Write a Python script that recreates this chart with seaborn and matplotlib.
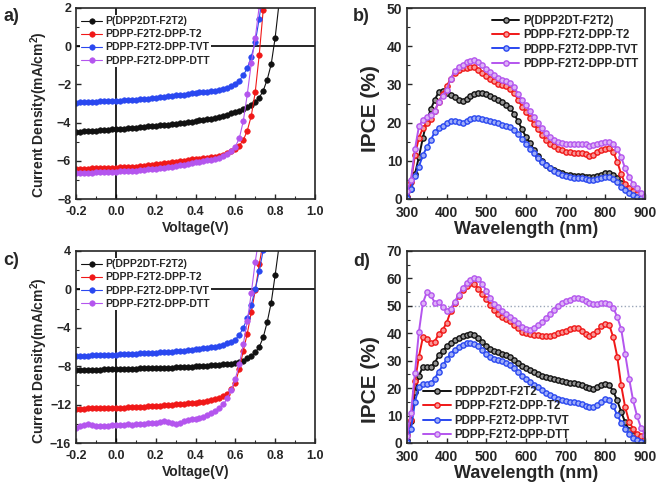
import numpy as np
import pandas as pd
import matplotlib
matplotlib.use('Agg')
import matplotlib.pyplot as plt
from matplotlib.ticker import MultipleLocator
from matplotlib.colors import to_rgb
import seaborn as sns

# J-V data (V step 0.02 V), current density in mA/cm2
voltage = [-0.20, -0.18, -0.16, -0.14, -0.12, -0.10, -0.08, -0.06, -0.04, -0.02,
           0.00, 0.02, 0.04, 0.06, 0.08, 0.10, 0.12, 0.14, 0.16, 0.18,
           0.20, 0.22, 0.24, 0.26, 0.28, 0.30, 0.32, 0.34, 0.36, 0.38,
           0.40, 0.42, 0.44, 0.46, 0.48, 0.50, 0.52, 0.54, 0.56, 0.58,
           0.60, 0.62, 0.64, 0.66, 0.68, 0.70, 0.72, 0.74, 0.76, 0.78,
           0.80, 0.82]

names_top = ['P(DPP2DT-F2T2)', 'PDPP-F2T2-DPP-T2', 'PDPP-F2T2-DPP-TVT', 'PDPP-F2T2-DPP-DTT']
names_d = ['PDPP2DT-F2T2', 'PDPP-F2T2-DPP-T2', 'PDPP-F2T2-DPP-TVT', 'PDPP-F2T2-DPP-DTT']
colors = ['#111111', '#f01818', '#2a48f0', '#b455ee']

# panel a
ja_black = [-4.48, -4.47, -4.46, -4.45, -4.43, -4.42, -4.40, -4.39, -4.37, -4.36,
            -4.34, -4.33, -4.31, -4.30, -4.28, -4.26, -4.24, -4.22, -4.20, -4.18,
            -4.16, -4.14, -4.12, -4.10, -4.07, -4.05, -4.03, -4.00, -3.97, -3.95,
            -3.92, -3.89, -3.86, -3.83, -3.80, -3.77, -3.72, -3.66, -3.59, -3.52,
            -3.45, -3.38, -3.30, -3.20, -3.08, -2.92, -2.70, -2.33, -1.75, -0.95,
            0.45, 2.3]
ja_red = [-6.43, -6.42, -6.42, -6.41, -6.40, -6.40, -6.39, -6.38, -6.37, -6.37,
          -6.36, -6.35, -6.34, -6.33, -6.31, -6.30, -6.28, -6.26, -6.24, -6.21,
          -6.19, -6.16, -6.14, -6.11, -6.08, -6.05, -6.02, -5.99, -5.96, -5.93,
          -5.91, -5.88, -5.86, -5.84, -5.81, -5.78, -5.74, -5.68, -5.60, -5.48,
          -5.36, -5.20, -4.92, -4.42, -3.65, -2.40, -0.45, 1.9, 4.5]
ja_blue = [-2.95, -2.94, -2.93, -2.92, -2.91, -2.90, -2.89, -2.88, -2.87, -2.87,
           -2.86, -2.85, -2.84, -2.83, -2.81, -2.80, -2.78, -2.76, -2.74, -2.72,
           -2.70, -2.68, -2.66, -2.63, -2.61, -2.58, -2.56, -2.53, -2.50, -2.47,
           -2.44, -2.42, -2.40, -2.38, -2.37, -2.35, -2.30, -2.25, -2.18, -2.08,
           -1.96, -1.80, -1.52, -1.15, -0.55, 0.20, 1.45, 3.0]
ja_purple = [-6.66, -6.65, -6.64, -6.63, -6.62, -6.61, -6.60, -6.59, -6.59, -6.58,
             -6.57, -6.56, -6.55, -6.54, -6.52, -6.51, -6.49, -6.47, -6.45, -6.44,
             -6.42, -6.39, -6.36, -6.33, -6.30, -6.27, -6.24, -6.20, -6.16, -6.12,
             -6.08, -6.05, -6.02, -5.98, -5.95, -5.91, -5.84, -5.76, -5.64, -5.48,
             -5.26, -4.82, -3.92, -2.52, -0.90, 0.42, 2.1, 4.0]

# panel c
jc_black = [-8.42, -8.42, -8.41, -8.40, -8.38, -8.36, -8.36, -8.33, -8.32, -8.30,
            -8.28, -8.27, -8.25, -8.25, -8.24, -8.24, -8.23, -8.22, -8.22, -8.21,
            -8.20, -8.19, -8.18, -8.16, -8.15, -8.13, -8.11, -8.09, -8.07, -8.05,
            -8.02, -7.99, -7.96, -7.93, -7.90, -7.88, -7.85, -7.82, -7.79, -7.76,
            -7.70, -7.60, -7.42, -7.18, -6.95, -6.55, -6.00, -5.00, -3.40, -1.40,
            1.5, 4.6]
jc_red = [-12.42, -12.42, -12.41, -12.40, -12.40, -12.39, -12.38, -12.38, -12.37, -12.36,
          -12.35, -12.33, -12.31, -12.29, -12.27, -12.25, -12.23, -12.21, -12.18, -12.16,
          -12.14, -12.11, -12.08, -12.05, -12.01, -11.98, -11.95, -11.92, -11.88, -11.84,
          -11.80, -11.74, -11.68, -11.60, -11.52, -11.43, -11.30, -11.12, -10.85, -10.40,
          -9.70, -8.30, -6.40, -4.60, -2.40, -0.10, 2.6, 5.0]
jc_blue = [-6.92, -6.91, -6.90, -6.89, -6.88, -6.86, -6.85, -6.83, -6.82, -6.80,
           -6.79, -6.77, -6.75, -6.73, -6.71, -6.69, -6.67, -6.65, -6.63, -6.61,
           -6.58, -6.56, -6.54, -6.51, -6.48, -6.45, -6.42, -6.38, -6.34, -6.29,
           -6.24, -6.19, -6.14, -6.08, -6.02, -5.95, -5.86, -5.76, -5.62, -5.45,
           -5.22, -4.75, -4.00, -3.00, -1.60, 0.00, 1.9, 4.1]
jc_purple = [-14.40, -14.25, -14.10, -14.05, -14.15, -14.20, -14.22, -14.18, -14.20, -14.15,
             -14.16, -14.12, -14.10, -14.05, -14.08, -14.02, -14.00, -13.98, -13.92, -13.88,
             -13.88, -13.80, -13.70, -13.82, -13.95, -14.00, -13.88, -13.75, -13.65, -13.55,
             -13.48, -13.38, -13.25, -13.10, -12.92, -12.70, -12.35, -11.95, -11.35, -10.45,
             -9.30, -7.80, -5.70, -3.30, -0.40, 2.9, 5.5]

# IPCE data (%), 300-900 nm in 10 nm steps
wavelength = [300, 310, 320, 330, 340, 350, 360, 370, 380, 390,
              400, 410, 420, 430, 440, 450, 460, 470, 480, 490,
              500, 510, 520, 530, 540, 550, 560, 570, 580, 590,
              600, 610, 620, 630, 640, 650, 660, 670, 680, 690,
              700, 710, 720, 730, 740, 750, 760, 770, 780, 790,
              800, 810, 820, 830, 840, 850, 860, 870, 880, 890,
              900]

# panel b
eb_black = [0.5, 2.5, 6.5, 11.0, 16.0, 20.5, 23.5, 26.0, 28.0, 28.2,
            27.8, 27.3, 26.6, 25.8, 25.6, 26.3, 27.0, 27.5, 27.7, 27.7,
            27.4, 27.0, 26.5, 26.0, 25.3, 24.6, 23.8, 22.3, 20.3, 18.3,
            16.2, 14.6, 12.9, 11.3, 10.0, 9.0, 8.2, 7.6, 7.1, 6.7,
            6.4, 6.2, 6.1, 6.0, 5.9, 5.8, 5.7, 5.8, 6.0, 6.4,
            6.8, 6.9, 6.4, 5.4, 4.3, 3.2, 2.3, 1.5, 0.9, 0.5,
            0.2]
eb_red = [0.5, 4.5, 11.5, 16.0, 18.5, 20.0, 21.0, 23.0, 25.5, 27.5,
          29.5, 31.5, 33.0, 33.8, 34.2, 34.4, 34.5, 34.5, 33.8, 33.0,
          32.3, 31.5, 30.8, 30.2, 29.8, 29.5, 28.8, 27.8, 26.0, 24.2,
          22.8, 21.2, 19.6, 18.2, 16.8, 15.5, 14.5, 13.8, 13.2, 12.8,
          12.4, 12.2, 12.0, 12.0, 12.0, 11.8, 11.3, 11.6, 12.2, 12.8,
          13.2, 13.3, 12.3, 9.8, 6.5, 4.0, 2.8, 2.0, 1.2, 0.6,
          0.3]
eb_blue = [0.3, 2.5, 6.0, 8.5, 11.5, 13.5, 15.5, 17.5, 18.7, 19.2,
           19.8, 20.5, 20.5, 20.2, 20.0, 20.5, 21.0, 21.3, 21.2, 21.0,
           20.8, 20.5, 20.2, 19.8, 19.5, 19.2, 18.8, 18.0, 17.0, 15.8,
           14.5, 13.2, 12.0, 10.8, 9.8, 8.8, 8.0, 7.3, 6.8, 6.3,
           6.0, 5.8, 5.6, 5.5, 5.4, 5.2, 5.0, 5.1, 5.3, 5.6,
           5.8, 5.8, 5.3, 4.5, 3.2, 2.3, 1.5, 1.0, 0.5, 0.3,
           0.1]
eb_purple = [2.0, 5.0, 13.0, 19.0, 20.8, 21.5, 22.0, 23.0, 25.5, 27.0,
             28.5, 31.5, 33.5, 34.5, 35.2, 35.8, 36.2, 36.3, 35.8, 35.0,
             34.0, 33.2, 32.4, 31.6, 31.2, 30.8, 30.3, 29.2, 27.6, 26.0,
             24.5, 23.0, 21.5, 20.0, 18.5, 17.3, 16.3, 15.5, 15.0, 14.6,
             14.4, 14.3, 14.3, 14.4, 14.4, 14.3, 14.0, 14.2, 14.4, 14.6,
             14.8, 14.9, 14.4, 13.0, 11.0, 8.0, 5.8, 4.0, 2.8, 1.7,
             0.8]

# panel d
ed_black = [1.0, 8.0, 18.5, 24.5, 27.8, 27.8, 27.8, 29.0, 32.2, 33.6,
            35.2, 36.6, 37.5, 38.4, 39.0, 39.5, 39.7, 39.5, 38.3, 36.8,
            35.5, 34.3, 33.5, 33.0, 32.6, 32.2, 31.5, 30.3, 29.2, 28.2,
            27.3, 26.6, 25.8, 25.2, 24.6, 24.2, 23.8, 23.4, 23.0, 22.6,
            22.3, 22.0, 21.8, 21.5, 21.0, 20.5, 20.0, 19.8, 20.5, 21.3,
            21.6, 21.2, 18.8, 15.5, 11.3, 7.6, 4.6, 2.8, 1.6, 0.9,
            0.5]
ed_red = [3.0, 8.5, 22.5, 31.5, 38.5, 38.0, 36.5, 37.0, 39.8, 41.3,
          43.8, 48.0, 51.0, 53.5, 55.8, 57.3, 58.2, 57.8, 56.3, 54.5,
          52.5, 50.3, 48.5, 47.0, 46.0, 45.2, 44.3, 43.2, 41.8, 40.6,
          40.0, 39.6, 39.5, 39.2, 39.0, 38.9, 39.0, 39.3, 40.0, 40.5,
          41.0, 41.6, 42.0, 42.0, 41.0, 39.6, 39.0, 39.6, 41.0, 42.5,
          43.5, 43.0, 38.5, 31.5, 21.0, 13.0, 7.8, 5.2, 3.4, 2.6,
          1.6]
ed_blue = [0.5, 5.0, 15.0, 20.5, 21.6, 21.6, 22.0, 23.5, 26.0, 28.3,
           30.5, 32.6, 34.0, 35.0, 35.9, 36.5, 36.6, 36.2, 35.2, 33.8,
           32.5, 31.5, 30.8, 30.3, 29.9, 29.3, 28.6, 27.4, 26.0, 24.6,
           23.4, 22.3, 21.2, 20.3, 19.3, 18.3, 17.5, 16.8, 16.2, 15.8,
           15.4, 15.1, 14.8, 14.5, 14.1, 13.5, 13.1, 13.2, 14.0, 15.0,
           15.9, 15.8, 13.4, 10.2, 7.4, 5.2, 3.4, 1.9, 1.0, 0.4,
           0.1]
ed_purple = [2.5, 11.0, 25.5, 40.5, 51.0, 55.0, 53.8, 51.2, 51.5, 49.5,
             48.0, 49.0, 51.5, 54.0, 56.5, 58.2, 59.5, 60.2, 59.8, 58.0,
             55.5, 53.0, 50.8, 49.5, 48.2, 47.0, 46.0, 45.0, 43.8, 42.3,
             41.5, 41.3, 42.0, 43.0, 44.2, 45.5, 47.0, 48.5, 50.0, 51.0,
             51.8, 52.3, 52.7, 52.8, 52.5, 51.8, 51.2, 50.6, 50.8, 51.2,
             51.2, 50.5, 49.3, 46.0, 41.5, 32.5, 23.5, 15.5, 9.8, 5.5,
             3.0]

sns.set_style('ticks')
plt.rcParams['font.family'] = ['Liberation Sans', 'DejaVu Sans']
plt.rcParams['font.weight'] = 'bold'
plt.rcParams['axes.labelweight'] = 'bold'
plt.rcParams['mathtext.fontset'] = 'custom'
plt.rcParams['mathtext.rm'] = 'Liberation Sans:bold'
plt.rcParams['mathtext.it'] = 'Liberation Sans:bold'
plt.rcParams['mathtext.bf'] = 'Liberation Sans:bold'
plt.rcParams['axes.linewidth'] = 1.2
plt.rcParams['xtick.direction'] = 'in'
plt.rcParams['ytick.direction'] = 'in'


def tint(color, f=0.55):
    r, g, b = to_rgb(color)
    return (r + (1 - r) * f, g + (1 - g) * f, b + (1 - b) * f)


def style_axes(ax, tick_size):
    ax.tick_params(which='major', length=3.5, width=1.0, labelsize=tick_size)
    ax.tick_params(which='minor', length=2, width=0.8)
    ax.tick_params(axis='x', which='major', pad=5)
    for lab in ax.get_xticklabels() + ax.get_yticklabels():
        lab.set_fontweight('bold')


def jv_panel(ax, series, ylim, ymaj, ymin, label_y):
    ax.axhline(0, color='black', lw=1.2, zorder=1)
    ax.axvline(0, color='black', lw=1.2, zorder=1)
    for name, j, color in series:
        df = pd.DataFrame({'V': voltage[:len(j)], 'J': j})
        sns.lineplot(data=df, x='V', y='J', ax=ax, color=color, lw=0.8,
                     marker='o', markersize=4, markeredgecolor=color,
                     markeredgewidth=0.4, label=name)
    ax.set_xlim(-0.2, 1.0)
    ax.set_ylim(*ylim)
    ax.xaxis.set_major_locator(MultipleLocator(0.2))
    ax.xaxis.set_minor_locator(MultipleLocator(0.1))
    ax.yaxis.set_major_locator(MultipleLocator(ymaj))
    ax.yaxis.set_minor_locator(MultipleLocator(ymin))
    ax.xaxis.set_major_formatter(plt.FuncFormatter(lambda v, p: f'{v:.1f}'))
    ax.set_xlabel('Voltage(V)', fontsize=10, labelpad=2)
    ax.set_ylabel('Current Density(mA/cm$^2$)', fontsize=10)
    ax.yaxis.set_label_coords(-0.11, label_y)
    style_axes(ax, 9)
    # opaque legend box hides the zero lines behind it
    leg = ax.legend(loc='upper left', bbox_to_anchor=(0.015, 0.965), frameon=True,
                    facecolor='white', edgecolor='none', framealpha=1.0, fancybox=False,
                    prop={'size': 7.5, 'weight': 'bold'}, handlelength=2.0,
                    labelspacing=0.3, handletextpad=0.3, borderaxespad=0.0,
                    borderpad=0.15)
    leg.set_zorder(5)


def ipce_panel(ax, series, ymax, legend_loc, anchor, label_y):
    for name, e, color in series:
        df = pd.DataFrame({'wl': wavelength, 'ipce': e})
        sns.lineplot(data=df, x='wl', y='ipce', ax=ax, color=color, lw=1.4,
                     marker='o', markersize=3.8, markerfacecolor=tint(color),
                     markeredgecolor=color, markeredgewidth=1.0, label=name)
    ax.set_xlim(300, 900)
    ax.set_ylim(0, ymax)
    ax.xaxis.set_major_locator(MultipleLocator(100))
    ax.xaxis.set_minor_locator(MultipleLocator(50))
    ax.yaxis.set_major_locator(MultipleLocator(10))
    ax.yaxis.set_minor_locator(MultipleLocator(5))
    ax.set_xlabel('Wavelength (nm)', fontsize=13, labelpad=1)
    ax.set_ylabel('IPCE (%)', fontsize=15)
    ax.yaxis.set_label_coords(-0.113, label_y)
    style_axes(ax, 10)
    ax.legend(loc=legend_loc, bbox_to_anchor=anchor, frameon=False,
              prop={'size': 8.3, 'weight': 'bold'}, handlelength=2.4,
              labelspacing=0.2, handletextpad=0.3, borderaxespad=0.2)


fig = plt.figure(figsize=(6.61, 4.88), dpi=100)
ax_a = fig.add_axes([76 / 661, 1 - 199 / 488, 239 / 661, 191 / 488])
ax_b = fig.add_axes([407 / 661, 1 - 199 / 488, 238 / 661, 191 / 488])
ax_c = fig.add_axes([76 / 661, 1 - 443 / 488, 239 / 661, 192 / 488])
ax_d = fig.add_axes([407 / 661, 1 - 443 / 488, 238 / 661, 192 / 488])

jv_panel(ax_a, zip(names_top, [ja_black, ja_red, ja_blue, ja_purple], colors), (-8, 2), 2, 1, 0.44)
jv_panel(ax_c, zip(names_top, [jc_black, jc_red, jc_blue, jc_purple], colors), (-16, 4), 4, 2, 0.43)

ipce_panel(ax_b, zip(names_top, [eb_black, eb_red, eb_blue, eb_purple], colors), 50,
           'upper right', (1.0, 1.0), 0.475)
ax_d.axhline(50, color='#9aa6b8', lw=1.0, ls=':', zorder=0)
ipce_panel(ax_d, zip(names_d, [ed_black, ed_red, ed_blue, ed_purple], colors), 70,
           'lower left', (0.04, -0.025), 0.33)

for letter, x, y in [('a)', 3, 8), ('b)', 353, 8), ('c)', 3, 252), ('d)', 353, 253)]:
    fig.text(x / 661, 1 - y / 488, letter, fontsize=13, fontweight='bold', va='top', ha='left')

fig.savefig('out.png', dpi=100)
